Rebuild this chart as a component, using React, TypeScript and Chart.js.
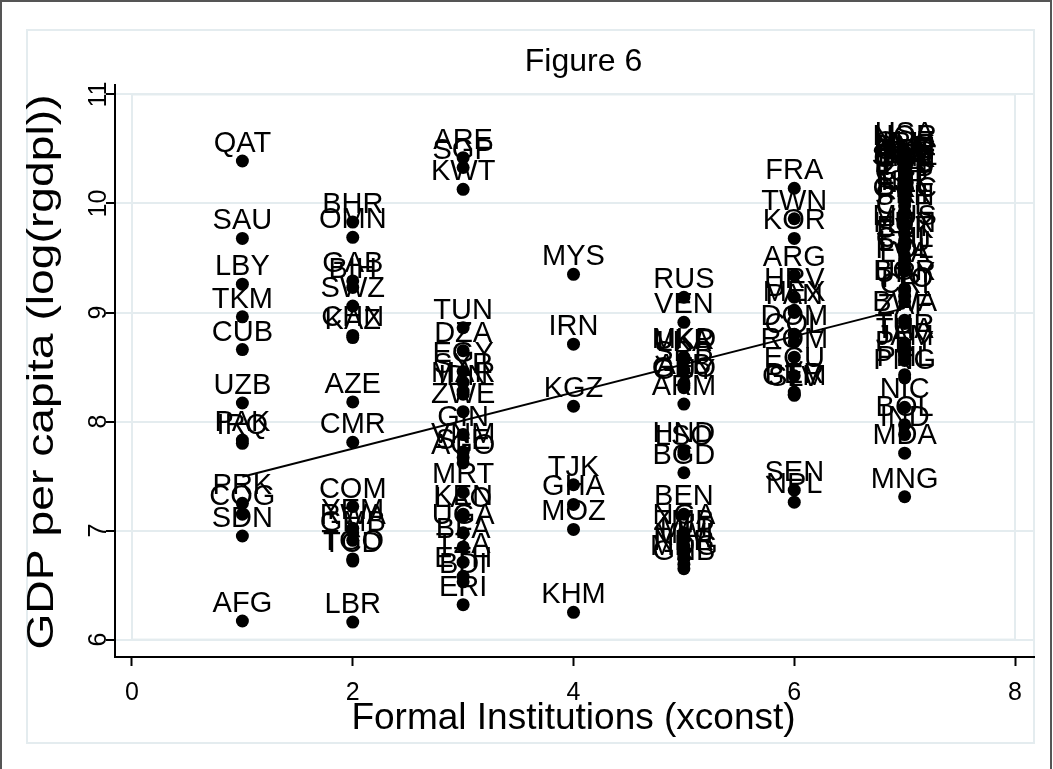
import React, { useEffect, useRef } from "react";
import { Chart, registerables } from "chart.js";

Chart.register(...registerables);

// ---- data ----
const chartTitle = "Figure 6";
const xAxisTitle = "Formal Institutions (xconst)";
const yAxisTitle = "GDP per capita (log(rgdpl))";
const xTickValues = [0, 2, 4, 6, 8];
const yTickValues = [6, 7, 8, 9, 10, 11];

const group1Codes = ["QAT", "SAU", "LBY", "TKM", "CUB", "UZB", "PAK", "IRQ", "PRK", "COG", "SDN", "AFG"];
const group1Gdp = [10.39, 9.68, 9.26, 8.96, 8.66, 8.17, 7.83, 7.8, 7.25, 7.15, 6.95, 6.17];

const group2Codes = ["BHR", "OMN", "GAB", "BIH", "SWZ", "CHN", "KAZ", "AZE", "CMR", "COM", "YEM", "RWA", "GMB", "TGO", "TCD", "LBR"];
const group2Gdp = [9.83, 9.69, 9.29, 9.23, 9.06, 8.79, 8.77, 8.18, 7.81, 7.22, 7.02, 6.98, 6.91, 6.74, 6.72, 6.16];

const group3Codes = ["ARE", "SGP", "KWT", "TUN", "DZA", "EGY", "SYR", "MAR", "IDN", "ZWE", "GIN", "VNM", "SLE", "AGO", "MRT", "KEN", "LAO", "UGA", "BFA", "TZA", "ETH", "BDI", "ERI"];
const group3Gdp = [10.42, 10.33, 10.13, 8.86, 8.65, 8.46, 8.36, 8.28, 8.25, 8.09, 7.88, 7.72, 7.67, 7.62, 7.35, 7.15, 7.13, 6.98, 6.85, 6.71, 6.58, 6.53, 6.32];

const group4Codes = ["MYS", "IRN", "KGZ", "TJK", "GHA", "MOZ", "KHM"];
const group4Gdp = [9.35, 8.71, 8.14, 7.42, 7.24, 7.01, 6.25];

const group5Codes = ["RUS", "VEN", "MKD", "UKR", "LKA", "SRB", "ALB", "GEO", "GUY", "ARM", "HND", "LSO", "BGD", "BEN", "NGA", "ZMB", "MLI", "MWI", "NER", "MDG", "GNB"];
const group5Gdp = [9.14, 8.91, 8.59, 8.58, 8.56, 8.47, 8.35, 8.33, 8.31, 8.16, 7.73, 7.7, 7.53, 7.15, 6.98, 6.92, 6.86, 6.8, 6.74, 6.69, 6.65];

const group6Codes = ["FRA", "TWN", "KOR", "ARG", "HRV", "MEX", "PAN", "DOM", "COL", "ROM", "ECU", "PER", "GTM", "SLV", "SEN", "NPL"];
const group6Gdp = [10.14, 9.86, 9.68, 9.34, 9.14, 9.02, 9.0, 8.8, 8.73, 8.59, 8.42, 8.27, 8.25, 8.24, 7.37, 7.26];

const group7Codes = ["USA", "NOR", "CHE", "IRL", "DNK", "NLD", "AUT", "CAN", "AUS", "ISL", "BEL", "SWE", "JPN", "GBR", "FIN", "DEU", "ITA", "CYP", "ESP", "ISR", "NZL", "GRC", "PRT", "SVN", "CZE", "MUS", "HUN", "EST", "SVK", "CHL", "LTU", "POL", "LVA", "BGR", "URY", "TTO", "CRI", "BWA", "ZAF", "TUR", "THA", "JAM", "PRY", "PHL", "PNG", "NIC", "BOL", "IND", "MDA", "MNG"];
const group7Gdp = [10.48, 10.45, 10.4, 10.39, 10.36, 10.35, 10.34, 10.33, 10.31, 10.3, 10.28, 10.27, 10.26, 10.25, 10.22, 10.21, 10.18, 10.12, 10.1, 10.04, 10.02, 9.98, 9.92, 9.9, 9.82, 9.72, 9.66, 9.62, 9.6, 9.52, 9.48, 9.42, 9.38, 9.22, 9.2, 9.15, 9.1, 8.93, 8.9, 8.72, 8.68, 8.62, 8.56, 8.43, 8.4, 8.13, 7.97, 7.88, 7.71, 7.31];

const xconstGroups = [1, 2, 3, 4, 5, 6, 7];
const groupCodes = [group1Codes, group2Codes, group3Codes, group4Codes, group5Codes, group6Codes, group7Codes];
const groupGdp = [group1Gdp, group2Gdp, group3Gdp, group4Gdp, group5Gdp, group6Gdp, group7Gdp];

const fitX = [1, 7];
const fitY = [7.494, 9.04];

// ---- styles ----
const FONT = "'Liberation Sans', Arial, Helvetica, sans-serif";
const W = 1053;
const H = 769;

export default function App() {
  const ref = useRef<HTMLCanvasElement | null>(null);

  useEffect(() => {
    if (!ref.current) return;
    const points: { x: number; y: number }[] = [];
    const labels: string[] = [];
    xconstGroups.forEach((xv, gi) => {
      groupGdp[gi].forEach((yv, i) => {
        points.push({ x: xv, y: yv });
        labels.push(groupCodes[gi][i]);
      });
    });
    const fitData = fitX.map((x, i) => ({ x, y: fitY[i] }));

    const framePlugin = {
      id: "frame",
      beforeDraw(chart: any) {
        const ctx = chart.ctx;
        ctx.save();
        ctx.fillStyle = "#ffffff";
        ctx.fillRect(0, 0, W, H);
        ctx.strokeStyle = "#e4ecef";
        ctx.lineWidth = 2;
        ctx.strokeRect(27, 30, 1007, 713);
        ctx.strokeStyle = "#555555";
        ctx.lineWidth = 2;
        ctx.strokeRect(1, 1, 1050, 790);
        ctx.restore();
      },
      beforeDatasetsDraw(chart: any) {
        const ctx = chart.ctx;
        const xs = chart.scales.x;
        const ys = chart.scales.y;
        ctx.save();
        ctx.strokeStyle = "#e4ecef";
        ctx.lineWidth = 2;
        const x0 = xs.getPixelForValue(xTickValues[0]);
        const x1 = xs.getPixelForValue(xTickValues[xTickValues.length - 1]);
        const y0 = ys.getPixelForValue(yTickValues[yTickValues.length - 1]);
        const y1 = ys.getPixelForValue(yTickValues[0]);
        ctx.strokeRect(x0, y0, x1 - x0, y1 - y0);
        ctx.restore();
      },
      afterDraw(chart: any) {
        const ctx = chart.ctx;
        const xs = chart.scales.x;
        const ys = chart.scales.y;
        const area = chart.chartArea;
        ctx.save();
        ctx.fillStyle = "#000000";
        // title
        ctx.font = `32px ${FONT}`;
        ctx.textAlign = "center";
        ctx.textBaseline = "alphabetic";
        ctx.fillText(chartTitle, (xs.getPixelForValue(0) + xs.getPixelForValue(8)) / 2 + 10, 71);
        // x tick labels
        ctx.font = `25px ${FONT}`;
        xTickValues.forEach((v) => {
          ctx.fillText(String(v), xs.getPixelForValue(v), 700);
        });
        // x title
        ctx.font = `37px ${FONT}`;
        ctx.fillText(xAxisTitle, (xs.getPixelForValue(0) + xs.getPixelForValue(8)) / 2, 729);
        // y tick labels (vertical)
        ctx.font = `25px ${FONT}`;
        yTickValues.forEach((v) => {
          ctx.save();
          ctx.translate(area.left - 9, ys.getPixelForValue(v));
          ctx.rotate(-Math.PI / 2);
          ctx.fillText(String(v), 0, 0);
          ctx.restore();
        });
        // y title (vertical, stretched along its length as in the reference)
        ctx.save();
        ctx.font = `37px ${FONT}`;
        ctx.translate(53, (ys.getPixelForValue(6) + ys.getPixelForValue(11)) / 2 + 5);
        ctx.rotate(-Math.PI / 2);
        ctx.scale(1.25, 1);
        ctx.fillText(yAxisTitle, 0, 0);
        ctx.restore();
        ctx.restore();
      },
      afterDatasetsDraw(chart: any) {
        const ctx = chart.ctx;
        const meta = chart.getDatasetMeta(0);
        ctx.save();
        ctx.fillStyle = "#000000";
        ctx.font = `29px ${FONT}`;
        ctx.textAlign = "center";
        ctx.textBaseline = "alphabetic";
        meta.data.forEach((el: any, i: number) => {
          ctx.fillText(labels[i], el.x, el.y - 9);
        });
        ctx.restore();
      },
    };

    const chart = new Chart(ref.current, {
      type: "scatter",
      data: {
        datasets: [
          {
            type: "scatter",
            data: points,
            backgroundColor: "#000000",
            borderWidth: 0,
            pointRadius: 6.5,
            pointHoverRadius: 6.5,
            order: 2,
          },
          {
            type: "line",
            data: fitData,
            borderColor: "#000000",
            borderWidth: 2,
            pointRadius: 0,
            fill: false,
            order: 1,
          } as any,
        ],
      },
      options: {
        responsive: false,
        animation: false,
        events: [],
        layout: { padding: { left: 106, right: 19, top: 85, bottom: 103 } },
        plugins: {
          legend: { display: false },
          tooltip: { enabled: false },
          title: { display: false },
        },
        scales: {
          x: {
            type: "linear",
            min: -0.154,
            max: 8.172,
            afterBuildTicks: (s: any) => {
              s.ticks = xTickValues.map((v) => ({ value: v }));
            },
            ticks: { display: false },
            grid: {
              drawOnChartArea: false,
              drawTicks: true,
              tickLength: 9,
              tickColor: "#000000",
              tickWidth: 2,
            },
            border: { display: true, color: "#000000", width: 2 },
          },
          y: {
            type: "linear",
            min: 5.84,
            max: 11.087,
            afterBuildTicks: (s: any) => {
              s.ticks = yTickValues.map((v) => ({ value: v }));
            },
            ticks: { display: false },
            grid: {
              drawOnChartArea: true,
              color: "#e4ecef",
              lineWidth: 2,
              drawTicks: true,
              tickLength: 9,
              tickColor: "#000000",
              tickWidth: 2,
            },
            border: { display: true, color: "#000000", width: 2 },
          },
        },
      },
      plugins: [framePlugin],
    });
    return () => chart.destroy();
  }, []);

  return (
    <div style={{ position: "absolute", left: 0, top: 0, width: W, height: H, background: "#fff" }}>
      <canvas ref={ref} width={W} height={H} style={{ display: "block", width: W, height: H }} />
    </div>
  );
}
